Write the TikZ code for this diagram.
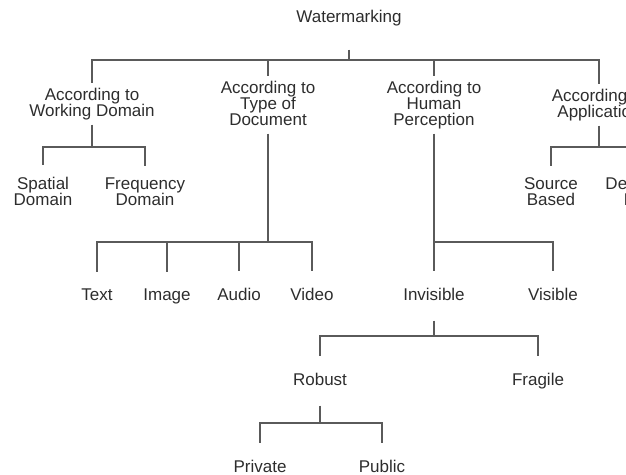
\documentclass[tikz,border=0pt]{standalone}
\usepackage{fontspec}
\setmainfont{Liberation Sans}
\usetikzlibrary{calc}
\definecolor{linegray}{RGB}{90,90,90}
\definecolor{textgray}{RGB}{45,45,45}

\begin{document}
\begin{tikzpicture}[x=1pt,y=-1pt,line width=1.4pt,color=linegray]
  \tikzset{lbl/.style={text=textgray,font=\fontsize{17}{16}\selectfont,
      align=center,inner xsep=2pt,inner ysep=0pt,text depth=3pt},
    root/.style={lbl,outer ysep=24pt},
    cat/.style={lbl,outer ysep=5pt},
    sub/.style={lbl,outer ysep=12pt},
    leaf/.style={lbl,outer ysep=17pt}}
  \useasboundingbox (0,0) rectangle (626,474);
  \clip (0,0) rectangle (626,474);

  % root and categories
  \node[root] (wm) at (349,18) {Watermarking};
  \node[cat] (wd) at (92,104) {According to\\Working Domain};
  \node[cat] (td) at (268,105) {According to\\Type of\\Document};
  \node[cat] (hp) at (434,105) {According to\\Human\\Perception};
  \node[cat] (ap) at (599,105) {According to\\Application};

  % sub classes
  \node[sub] (sd) at (43,193) {Spatial\\Domain};
  \node[sub] (fd) at (145,193) {Frequency\\Domain};
  \node[sub] (sb) at (551,193) {Source\\Based};
  \node[sub] (db) at (648,193) {Destination\\Based};

  \node[leaf] (tx) at (97,296) {Text};
  \node[leaf] (im) at (167,296) {Image};
  \node[leaf] (au) at (239,296) {Audio};
  \node[leaf] (vi) at (312,296) {Video};
  \node[leaf] (in) at (434,296) {Invisible};
  \node[leaf] (vs) at (553,296) {Visible};
  \node[leaf] (ro) at (320,381) {Robust};
  \node[leaf] (fr) at (538,381) {Fragile};
  \node[leaf] (pr) at (260,468) {Private};
  \node[leaf] (pu) at (382,468) {Public};

  % bars
  \coordinate (wmbar) at (349,60);
  \coordinate (wdbar) at (92,147);
  \coordinate (tdbar) at (268,242);
  \coordinate (hpbar) at (434,242);
  \coordinate (apbar) at (599,147);
  \coordinate (inbar) at (434,336);
  \coordinate (robar) at (320,423);

  \draw (wm) -- (wmbar);
  \foreach \c in {wd,td,hp,ap} \draw (wmbar) -| (\c);
  \draw (wd) -- (wdbar);
  \foreach \c in {sd,fd} \draw (wdbar) -| (\c);
  \draw (ap) -- (apbar);
  \foreach \c in {sb,db} \draw (apbar) -| (\c);
  \draw (td) -- (tdbar);
  \foreach \c in {tx,im,au,vi} \draw (tdbar) -| (\c);
  \draw (hp) -- (hpbar);
  \foreach \c in {in,vs} \draw (hpbar) -| (\c);
  \draw (in) -- (inbar);
  \foreach \c in {ro,fr} \draw (inbar) -| (\c);
  \draw (ro) -- (robar);
  \foreach \c in {pr,pu} \draw (robar) -| (\c);
\end{tikzpicture}
\end{document}
